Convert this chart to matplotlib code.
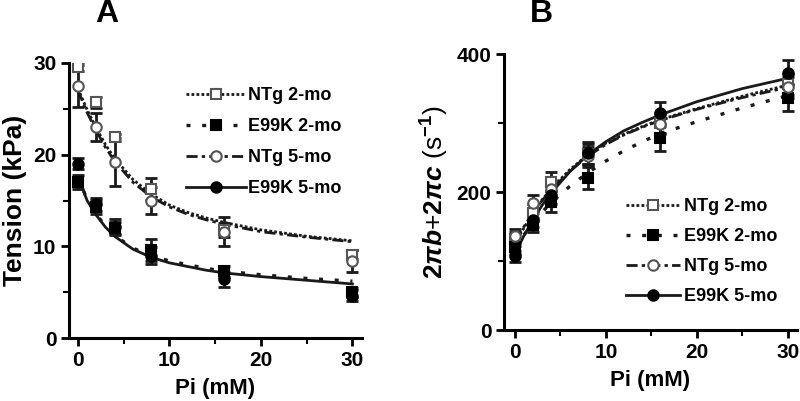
import matplotlib
matplotlib.use("Agg")
import matplotlib.pyplot as plt
from matplotlib.lines import Line2D
from matplotlib.ticker import MultipleLocator

plt.rcParams['font.family'] = ['Liberation Sans', 'DejaVu Sans']
plt.rcParams['font.weight'] = 'bold'
plt.rcParams['mathtext.fontset'] = 'custom'
plt.rcParams['mathtext.rm'] = 'Liberation Sans:bold'
plt.rcParams['mathtext.it'] = 'Liberation Sans:italic:bold'
plt.rcParams['mathtext.bf'] = 'Liberation Sans:bold'

# measured Pi concentrations (mM)
pi = [0, 2, 4, 8, 16, 30]
labels = ['NTg 2-mo', 'E99K 2-mo', 'NTg 5-mo', 'E99K 5-mo']

# panel A: tension (kPa)
tensNTg2 = [29.6, 25.7, 21.9, 16.3, 11.8, 9.1]
tensE2 = [17.0, 14.3, 12.0, 9.6, 7.3, 5.0]
tensNTg5 = [27.5, 23.0, 19.2, 15.0, 11.6, 8.4]
tensE5 = [19.0, 14.6, 12.1, 9.0, 6.4, 4.6]
errTensNTg2 = [0.5, 0.6, 0.4, 1.2, 0.8, 0.5]
errTensE2 = [0.8, 0.8, 0.7, 1.2, 0.6, 0.5]
errTensNTg5 = [2.3, 1.5, 2.6, 1.5, 1.6, 1.2]
errTensE5 = [0.6, 0.7, 0.9, 0.9, 0.8, 0.6]

# fitted curves
fitX = [0, 1, 2, 3, 4, 6, 8, 10, 12, 14, 16, 20, 25, 30]
fitTensNTg2 = [27.2, 24.9, 22.9, 21.1, 19.6, 17.3, 15.7, 14.5, 13.7, 13.1, 12.6, 11.8, 11.1, 10.6]
fitTensE2 = [17.6, 15.1, 13.5, 12.2, 11.2, 9.8, 9.0, 8.4, 8.0, 7.6, 7.3, 6.9, 6.5, 6.2]
fitTensNTg5 = [27.0, 24.6, 22.6, 20.8, 19.3, 17.0, 15.4, 14.3, 13.5, 12.9, 12.4, 11.6, 11.0, 10.5]
fitTensE5 = [17.6, 15.0, 13.4, 12.1, 11.1, 9.7, 8.8, 8.2, 7.8, 7.4, 7.1, 6.7, 6.3, 5.9]

# panel B: 2πb+2πc (s^-1)
rateNTg2 = [132, 170, 215, 255, 300, 356]
rateE2 = [120, 152, 186, 220, 278, 337]
rateNTg5 = [136, 184, 205, 252, 298, 352]
rateE5 = [107, 160, 196, 256, 314, 373]
errRateNTg2 = [10, 12, 14, 14, 14, 15]
errRateE2 = [10, 10, 15, 16, 18, 20]
errRateNTg5 = [10, 12, 13, 13, 14, 15]
errRateE5 = [8, 10, 14, 16, 16, 18]

fitRateNTg2 = [126, 148, 170, 189, 205, 232, 254, 271, 284, 295, 305, 321, 339, 355]
fitRateE2 = [120, 138, 155, 171, 185, 208, 228, 245, 260, 273, 285, 302, 322, 340]
fitRateNTg5 = [130, 150, 170, 188, 203, 230, 252, 269, 283, 294, 304, 320, 337, 352]
fitRateE5 = [110, 137, 160, 181, 199, 229, 254, 273, 289, 301, 312, 331, 350, 365]

styles = [
    dict(marker='s', mfc='white', mec='#555555', ls=(0, (1, 0.8)), lw=2.0),
    dict(marker='s', mfc='black', mec='black', ls=(0, (1.2, 3.5)), lw=2.4),
    dict(marker='o', mfc='white', mec='#555555', ls=(0, (4, 1.5, 1.2, 1.5)), lw=2.0),
    dict(marker='o', mfc='black', mec='black', ls='-', lw=2.0),
]

fig = plt.figure(figsize=(8, 4.01), dpi=100)
axA = fig.add_axes([0.086, 0.157, 0.366, 0.686])
axB = fig.add_axes([0.630, 0.177, 0.366, 0.688])


def drawPanel(ax, means, errs, fits):
    for m, e, f, st in zip(means, errs, fits, styles):
        ax.plot(fitX, f, color='#1a1a1a', ls=st['ls'], lw=st['lw'], zorder=2)
        ax.errorbar(pi, m, yerr=e, fmt='none', ecolor='#1a1a1a', elinewidth=2,
                    capsize=4, capthick=2, zorder=3)
        ax.plot(pi, m, ls='none', marker=st['marker'], ms=7.5, mfc=st['mfc'],
                mec=st['mec'], mew=1.5, zorder=4)
    for s in ['top', 'right']:
        ax.spines[s].set_visible(False)
    for s in ['left', 'bottom']:
        ax.spines[s].set_linewidth(2.2)
    ax.tick_params(which='major', length=6, width=2, labelsize=15, pad=3)
    ax.tick_params(which='minor', length=4, width=1.5)
    ax.xaxis.set_major_locator(MultipleLocator(10))
    ax.xaxis.set_minor_locator(MultipleLocator(5))
    for t in ax.get_xticklabels() + ax.get_yticklabels():
        t.set_fontweight('bold')
    ax.set_xlabel('Pi (mM)', fontsize=16, fontweight='bold', labelpad=6)
    handles = [Line2D([], [], color='#1a1a1a', ls=st['ls'], lw=st['lw'],
                      marker=st['marker'], ms=7.5, mfc=st['mfc'], mec=st['mec'], mew=1.5)
               for st in styles]
    return handles


hA = drawPanel(axA, [tensNTg2, tensE2, tensNTg5, tensE5],
               [errTensNTg2, errTensE2, errTensNTg5, errTensE5],
               [fitTensNTg2, fitTensE2, fitTensNTg5, fitTensE5])
axA.set_xlim(-1, 31)
axA.set_ylim(0, 30)
axA.yaxis.set_major_locator(MultipleLocator(10))
axA.yaxis.set_minor_locator(MultipleLocator(5))
axA.set_ylabel('Tension (kPa)', fontsize=19, fontweight='bold', labelpad=4)
axA.legend(hA, labels, loc='upper left', bbox_to_anchor=(0.37, 0.945), frameon=False,
           handlelength=3.3, handletextpad=0.1, labelspacing=0.78, borderpad=0,
           prop={'size': 13, 'weight': 'bold'})

hB = drawPanel(axB, [rateNTg2, rateE2, rateNTg5, rateE5],
               [errRateNTg2, errRateE2, errRateNTg5, errRateE5],
               [fitRateNTg2, fitRateE2, fitRateNTg5, fitRateE5])
axB.set_xlim(-1.2, 31)
axB.set_ylim(0, 400)
axB.yaxis.set_major_locator(MultipleLocator(200))
axB.yaxis.set_minor_locator(MultipleLocator(100))
axB.set_ylabel(r'$2\pi b$+$2\pi c$ (s$^{-1}$)', fontsize=19, labelpad=4)
axB.legend(hB, labels, loc='upper left', bbox_to_anchor=(0.385, 0.51), frameon=False,
           handlelength=3.0, handletextpad=0.2, labelspacing=0.72, borderpad=0,
           prop={'size': 13, 'weight': 'bold'})

fig.text(107 / 800, 1 - 14 / 401, 'A', fontsize=23, fontweight='bold', ha='center', va='center')
fig.text(541 / 800, 1 - 14 / 401, 'B', fontsize=23, fontweight='bold', ha='center', va='center')

fig.savefig('out.png', dpi=100)
